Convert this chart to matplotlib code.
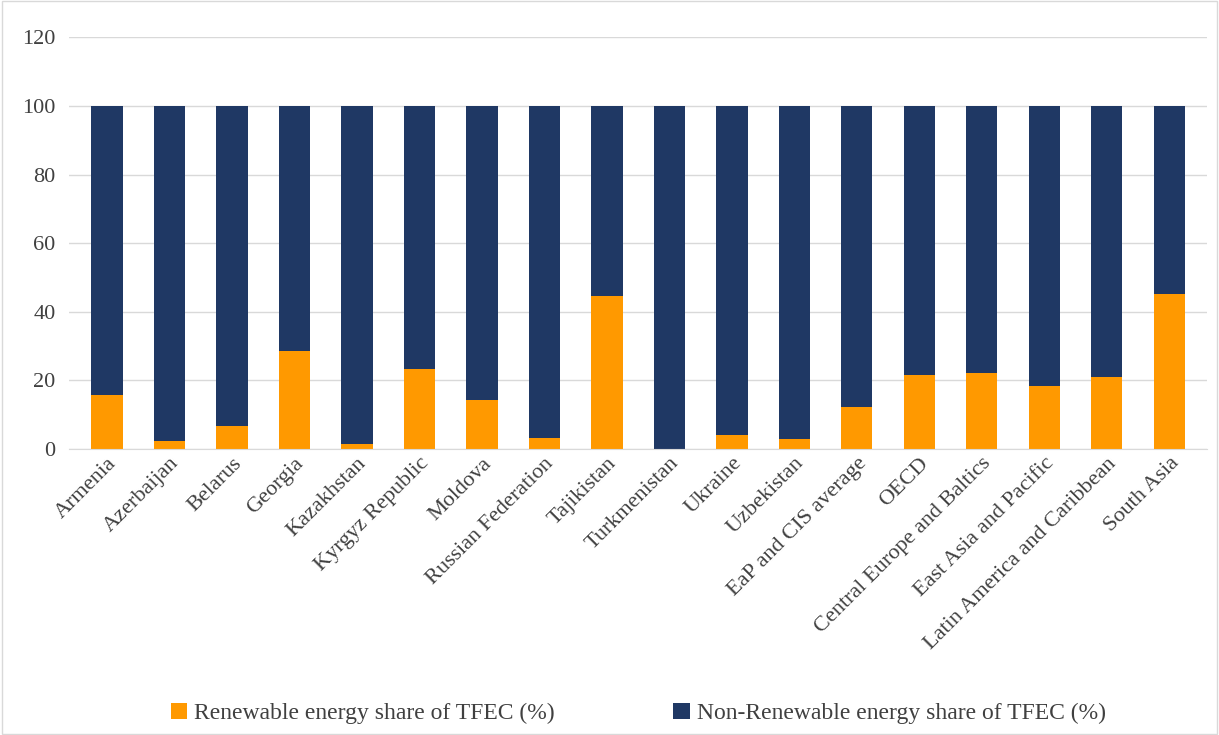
import numpy as np
import matplotlib.pyplot as plt

plt.rcParams['font.family'] = ['Liberation Serif', 'DejaVu Serif']

countries = ["Armenia", "Azerbaijan", "Belarus", "Georgia", "Kazakhstan", "Kyrgyz Republic",
             "Moldova", "Russian Federation", "Tajikistan", "Turkmenistan", "Ukraine",
             "Uzbekistan", "EaP and CIS average", "OECD", "Central Europe and Baltics",
             "East Asia and Pacific", "Latin America and Caribbean", "South Asia"]
renewable = [15.8, 2.3, 6.7, 28.7, 1.5, 23.4, 14.3, 3.2, 44.7, 0.1, 4.1, 2.9,
             12.3, 21.6, 22.2, 18.4, 21.0, 45.3]
non_renewable = [100 - r for r in renewable]

fig = plt.figure(figsize=(12.19, 7.35), dpi=100)
ax = fig.add_axes([0.057, 0.389, 0.933, 0.56])
x = np.arange(len(countries))
ax.bar(x, renewable, width=0.5, color="#FF9900", label="Renewable energy share of TFEC (%)")
ax.bar(x, non_renewable, width=0.5, bottom=renewable, color="#1F3864",
       label="Non-Renewable energy share of TFEC (%)")
ax.set_ylim(0, 120)
ax.set_xlim(-0.6, len(countries) - 0.4)
ax.set_yticks(range(0, 121, 20))
ax.yaxis.grid(True, color="#D9D9D9", linewidth=1)
ax.set_axisbelow(True)
for s in ["top", "right", "left"]:
    ax.spines[s].set_visible(False)
ax.spines["bottom"].set_color("#D9D9D9")
ax.tick_params(length=0, labelsize=16, colors="#404040")
ax.tick_params(axis="y", pad=10)
ax.set_xticks(x)
ax.set_xticklabels(countries, rotation=45, ha="right", rotation_mode="anchor")
ax.legend(loc="lower center", bbox_to_anchor=(0.5, -0.72), ncol=2, frameon=False,
          fontsize=17, columnspacing=5, handlelength=0.7, handleheight=0.7,
          handletextpad=0.3, labelcolor="#404040")
fig.patches.append(plt.Rectangle((0.002, 0.002), 0.996, 0.996, transform=fig.transFigure,
                                 fill=False, edgecolor="#D9D9D9", linewidth=1))
fig.savefig("out.png", dpi=100)
